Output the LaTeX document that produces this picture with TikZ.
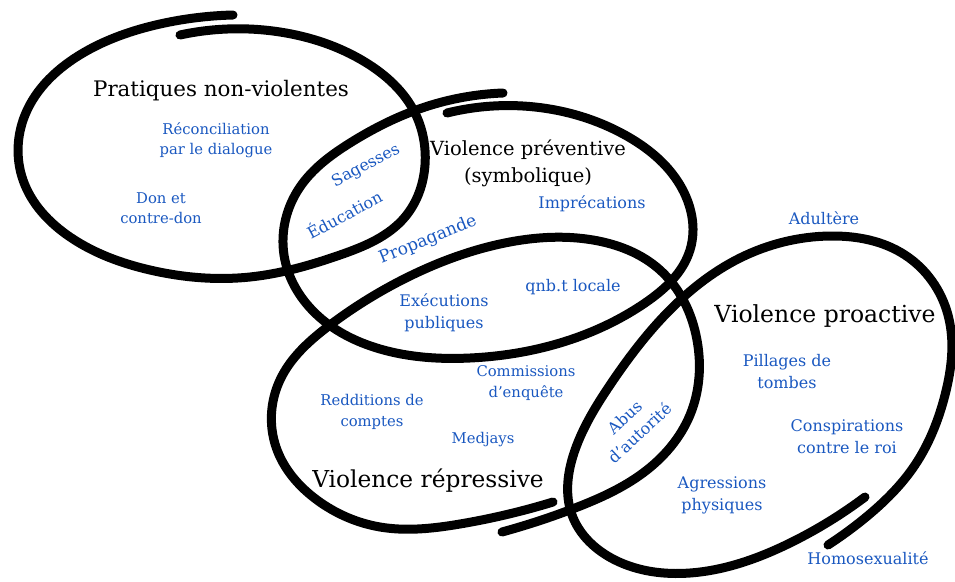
\documentclass[tikz,border=0pt]{standalone}
\usepackage{fontspec}
\setmainfont{DejaVu Serif}
\usepackage{xcolor}
\usepackage{tikz}
\usetikzlibrary{positioning, hobby}

\definecolor{itemblue}{RGB}{26,88,192}

\begin{document}
\begin{tikzpicture}[x=1pt, y=-1pt,
    brush/.style={line width=9pt, line cap=round, line join=round, use Hobby shortcut},
    cat/.style={font=\fontsize{21.4}{27}\selectfont, align=center, inner sep=0pt},
    item/.style={text=itemblue, font=\fontsize{16}{22}\selectfont, align=center, inner sep=0pt},
    smallitem/.style={item, font=\fontsize{14.8}{20.5}\selectfont}]
    \useasboundingbox (0,0) rectangle (955,581);

    % non-violent loop
    \draw[brush] (180,35) .. (280,32) .. (365,62) .. (415,113) .. (425,165) .. (405,217)
      .. (340,255) .. (250,277) .. (150,270) .. (70,237) .. (23,180) .. (25,115)
      .. (83,53) .. (160,24) .. (233,15);
    % preventive loop
    \draw[brush] (447,113) .. (535,107) .. (625,135) .. (680,185) .. (690,250)
      .. (645,303) .. (560,343) .. (470,358) .. (380,349) .. (315,313) .. (284,255)
      .. (300,187) .. (350,143) .. (425,107) .. (503,93);
    % repressive loop
    \draw[brush] (553,502) .. (460,524) .. (380,527) .. (317,500) .. (276,447)
      .. (280,380) .. (330,325) .. (410,276) .. (500,244) .. (593,240) .. (660,270)
      .. (697,340) .. (690,415) .. (643,473) .. (575,508) .. (502,532);
    % proactive loop
    \draw[brush] (865,497) .. (790,543) .. (690,573) .. (615,560) .. (572,515)
      .. (575,450) .. (610,385) .. (665,315) .. (740,258) .. (830,236) .. (905,255)
      .. (948,315) .. (945,395) .. (915,465) .. (865,518) .. (828,545);

    % titles
    \node[cat] (nonviol) at (221,91) {Pratiques non-violentes};
    \node[cat, font=\fontsize{19.5}{27}\selectfont] (prevent) at (528,163) {Violence préventive\\(symbolique)};
    \node[cat, font=\fontsize{23.3}{28}\selectfont] (repress) at (428,481) {Violence répressive};
    \node[cat, font=\fontsize{23.5}{28}\selectfont] (proact) at (825,316) {Violence proactive};

    % non-violent practices
    \node[smallitem] (reconc) at (216,140) {Réconciliation\\par le dialogue};
    \node[smallitem] (don) at (161,208) {Don et\\contre-don};
    \node[item, rotate=28] (sagesses) at (366,166) {Sagesses};
    \node[item, rotate=28] (educ) at (344,214) {Éducation};

    % preventive violence
    \node[item, font=\fontsize{17}{22}\selectfont, rotate=22] (propag) at (428,240) {Propagande};
    \node[item] (imprec) at (592,204) {Imprécations};
    \node[item] (qnbt) at (573,287) {qnb.t locale};
    \node[item] (execut) at (444,313) {Exécutions\\publiques};

    % repressive violence
    \node[smallitem] (commiss) at (526,383) {Commissions\\d’enquête};
    \node[smallitem] (reddit) at (372,412) {Redditions de\\comptes};
    \node[smallitem] (medjays) at (483,440) {Medjays};
    \node[item, rotate=43] (abus) at (632,425) {Abus\\d’autorité};

    % proactive violence
    \node[item] (adult) at (824,218) {Adultère};
    \node[item] (pillag) at (787,372) {Pillages de\\tombes};
    \node[item] (conspi) at (847,437) {Conspirations\\contre le roi};
    \node[item] (agress) at (722,495) {Agressions\\physiques};
    \node[item] (homo) at (868,558) {Homosexualité};
\end{tikzpicture}
\end{document}
